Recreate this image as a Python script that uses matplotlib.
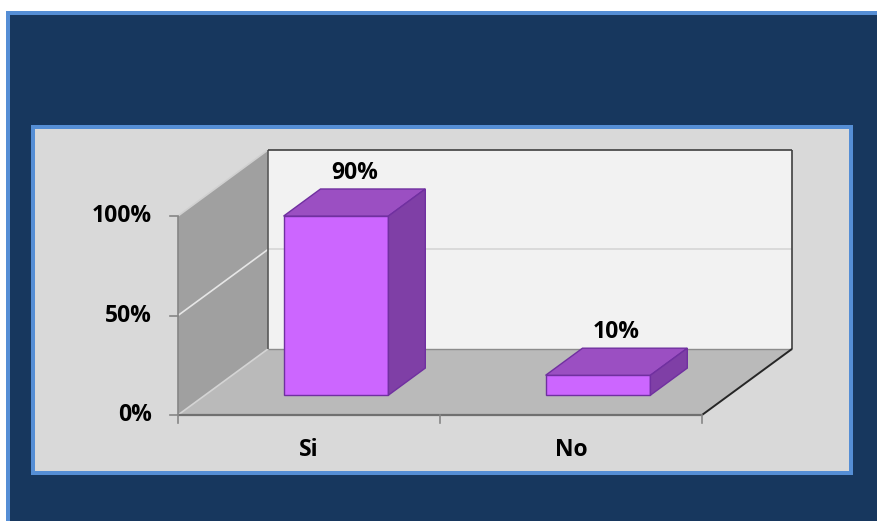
import matplotlib
matplotlib.use("Agg")
import matplotlib.pyplot as plt
from matplotlib.patches import Polygon, Rectangle

categories = ['Si', 'No']
values = [90, 10]
yticks = [0, 50, 100]
ytick_labels = ['0%', '50%', '100%']

# oblique depth offset: category units and percent per full depth
DX = 0.3435
DY = 33.2
BAR_W = 0.4
D0, D1 = 0.30, 0.71

W, H = 877, 521
FONT = dict(family=['Open Sans', 'DejaVu Sans'], weight='bold', size=16.5, color='black')


def proj(x, y, d):
    return (x + d * DX, y + d * DY)


def face(ax, pts, fc, ec='none', lw=0.0, z=1):
    ax.add_patch(Polygon([proj(*p) for p in pts], closed=True, facecolor=fc,
                         edgecolor=ec, linewidth=lw, zorder=z))


def line(ax, p, q, color, lw=1.0, z=2):
    a, b = proj(*p), proj(*q)
    ax.plot([a[0], b[0]], [a[1], b[1]], color=color, linewidth=lw, zorder=z,
            solid_capstyle='butt')


fig = plt.figure(figsize=(W / 100, H / 100), dpi=100)
fig.patch.set_facecolor('white')


def px_rect(x0, y0, x1, y1, color, z):
    fig.patches.append(Rectangle((x0 / W, 1 - y1 / H), (x1 - x0) / W, (y1 - y0) / H,
                                 transform=fig.transFigure, facecolor=color,
                                 edgecolor='none', zorder=z))


# navy frame and inner grey panel, kept behind the axes
px_rect(6, 11, W + 5, H + 5, '#558ed5', -4)
px_rect(10, 15, W + 5, H + 5, '#17375e', -3)
px_rect(31, 125, 853, 475, '#558ed5', -2)
px_rect(35, 129, 849, 471, '#d9d9d9', -1)

ax = fig.add_axes([0, 0, 1, 1])
ax.set_axis_off()
ax.patch.set_alpha(0)
# 262 px per category, 1.99 px per percent, origin at (178, 415)
ax.set_xlim(-178 / 262, (W - 178) / 262)
ax.set_ylim(-(H - 415) / 1.99, 415 / 1.99)

n = len(categories)
top = yticks[-1]

# walls and floor
face(ax, [(0, 0, 0), (n, 0, 0), (n, 0, 1), (0, 0, 1)], '#bababa')
face(ax, [(0, 0, 0), (0, 0, 1), (0, top, 1), (0, top, 0)], '#a0a0a0')
face(ax, [(0, 0, 1), (n, 0, 1), (n, top, 1), (0, top, 1)], '#f2f2f2')

for t in yticks[1:-1]:
    line(ax, (0, t, 0), (0, t, 1), '#e6e6e6', 1.2)
    line(ax, (0, t, 1), (n, t, 1), '#d6d6d6', 1.2)
line(ax, (0, top, 0), (0, top, 1), '#d0d0d0', 1.2)
line(ax, (0, 0, 0), (0, 0, 1), '#d4d4d4', 1.2)
line(ax, (0, 0, 1), (n, 0, 1), '#8c8c8c', 1.0)
line(ax, (0, 0, 1), (0, top, 1), '#595959', 1.2)
line(ax, (0, top, 1), (n, top, 1), '#404040', 1.2)
line(ax, (n, 0, 1), (n, top, 1), '#404040', 1.2)
line(ax, (n, 0, 0), (n, 0, 1), '#262626', 1.4)
line(ax, (0, 0, 0), (n, 0, 0), '#707070', 1.6)
line(ax, (0, 0, 0), (0, top, 0), '#868686', 1.2)

# axis ticks and labels
tick_x = 8 / 262
tick_y = 8 / 1.99
for t, lab in zip(yticks, ytick_labels):
    ax.plot([-tick_x, 0], [t, t], color='#868686', linewidth=1.2, zorder=2)
    ax.text(-26 / 262, t, lab, ha='right', va='center', **FONT)
for i in range(n + 1):
    ax.plot([i, i], [-tick_y, 0], color='#868686', linewidth=1.2, zorder=2)
for i, cat in enumerate(categories):
    ax.text(i + 0.5, -35 / 1.99, cat, ha='center', va='center', **FONT)

# bars
for i, v in enumerate(values):
    c = i + 0.5
    l, r = c - BAR_W / 2, c + BAR_W / 2
    face(ax, [(l, 0, D0), (r, 0, D0), (r, v, D0), (l, v, D0)],
         '#cc66ff', '#7030a0', 1.0, 3)
    face(ax, [(l, v, D0), (r, v, D0), (r, v, D1), (l, v, D1)],
         '#9b4fc2', '#7030a0', 1.0, 3)
    face(ax, [(r, 0, D0), (r, 0, D1), (r, v, D1), (r, v, D0)],
         '#7f3fa6', '#7030a0', 1.0, 3)
    ax.annotate(f'{v}%', xy=proj(c, v, (D0 + D1) / 2), xytext=(0, 30),
                textcoords='offset pixels', ha='center', va='center',
                zorder=4, **FONT)

fig.savefig('out.png', dpi=100)
